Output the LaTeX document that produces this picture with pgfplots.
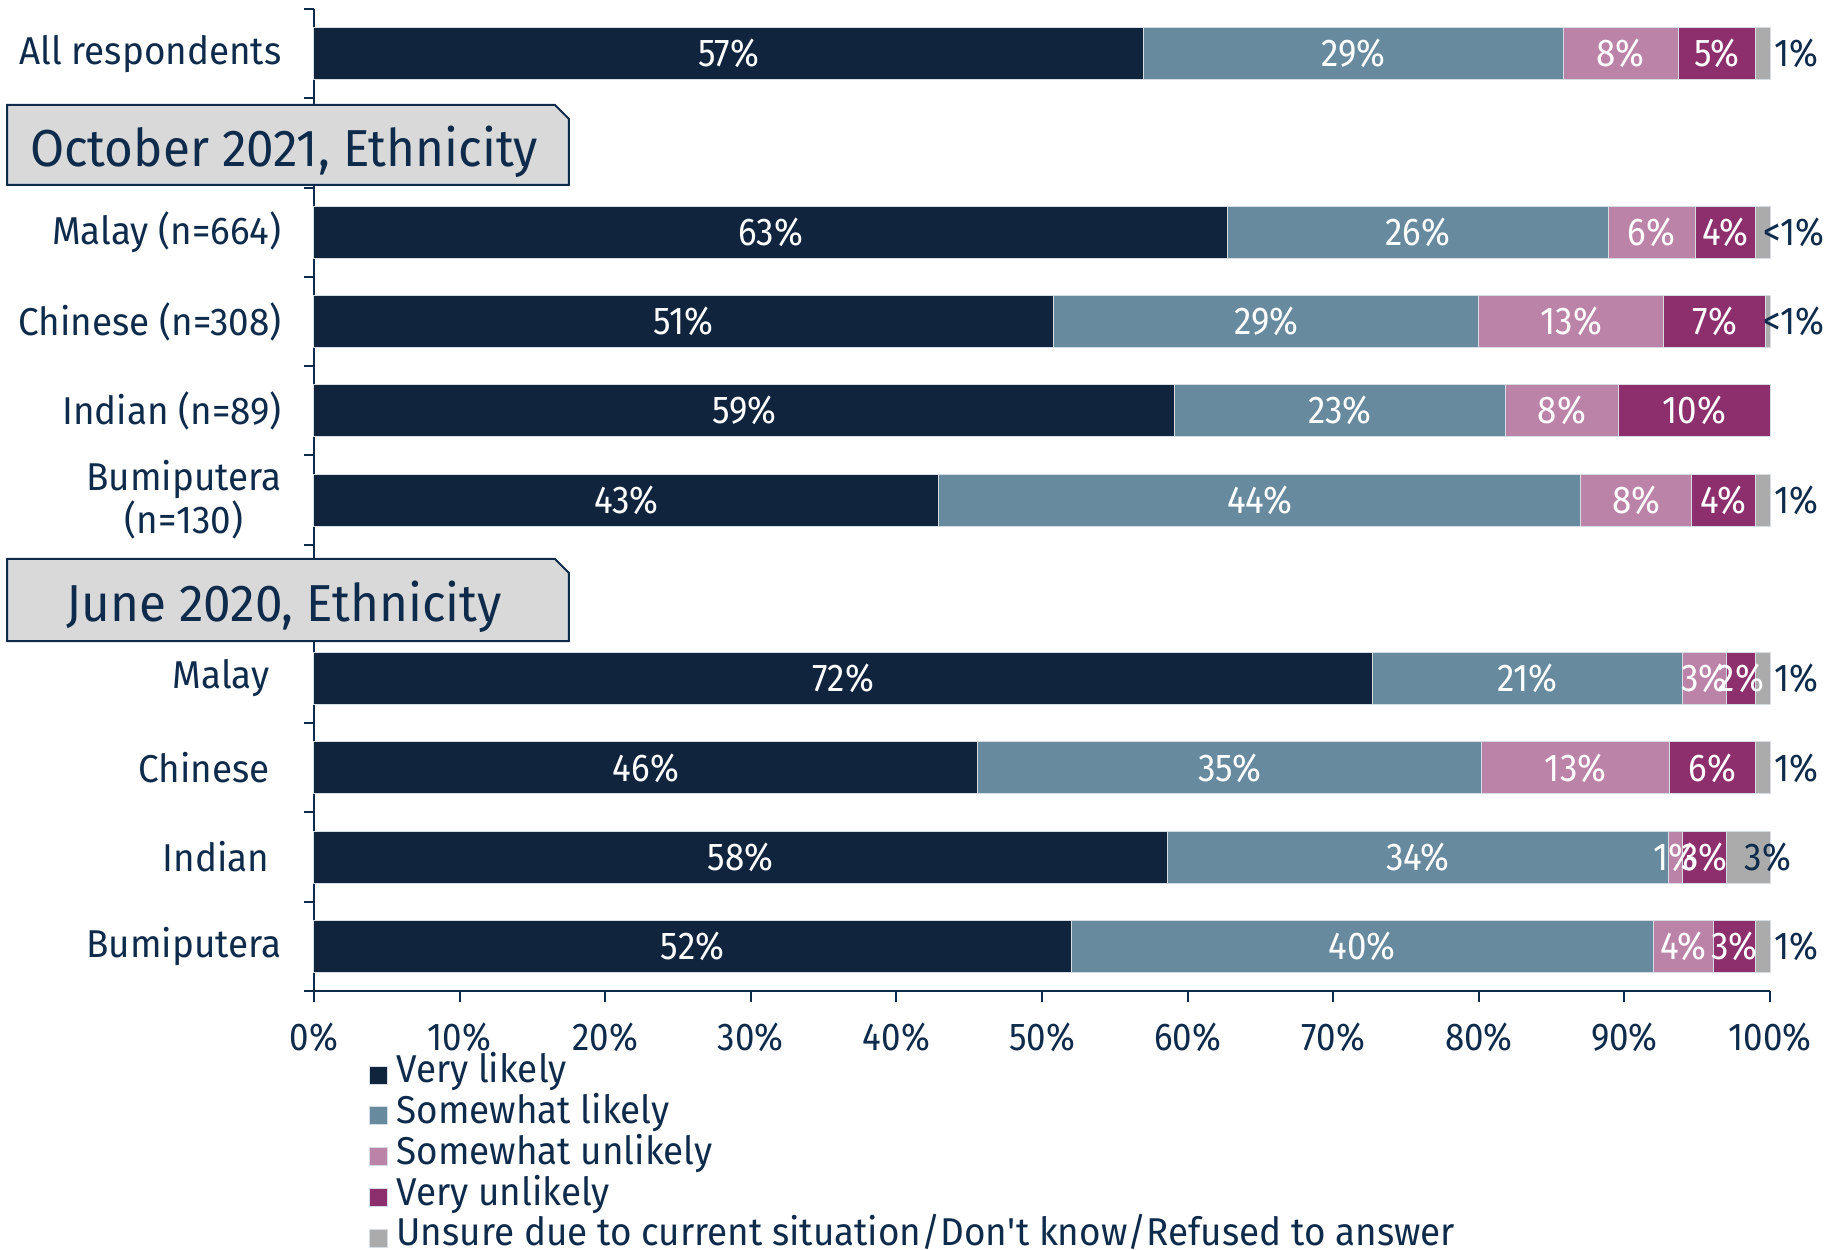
\documentclass[border=0pt]{standalone}
\usepackage{fontspec}
\setmainfont{Fira Sans}[FakeStretch=0.95]
\newfontfamily\numfont{Fira Sans}[FakeStretch=0.9]
\usepackage{pgfplots}
\usepackage{pgfplotstable}
\pgfplotsset{compat=1.18}
\definecolor{cVL}{HTML}{10243D}
\definecolor{cSL}{HTML}{678A9E}
\definecolor{cSU}{HTML}{BC83A8}
\definecolor{cVU}{HTML}{8C2F6C}
\definecolor{cUN}{HTML}{ABABAB}
\definecolor{txt}{HTML}{0E2B4C}
\definecolor{brd}{HTML}{D6DCE2}
\definecolor{hdrfill}{HTML}{D9D9D9}
\newcommand\lab{\fontsize{19.4}{21.5}\selectfont}
\newcommand\nlab{\numfont\fontsize{19.4}{21.5}\selectfont}
\newcommand\hdr{\fontsize{26}{30}\selectfont}

\pgfplotstableread{
y v lbl
10 57.0 57\%
8 62.75 63\%
7 50.8 51\%
6 59.1 59\%
5 42.9 43\%
3 72.7 72\%
2 45.6 46\%
1 58.6 58\%
0 52.0 52\%
}\tVL
\pgfplotstableread{
y v lbl
10 28.8 29\%
8 26.15 26\%
7 29.2 29\%
6 22.7 23\%
5 44.1 44\%
3 21.3 21\%
2 34.6 35\%
1 34.4 34\%
0 40.0 40\%
}\tSL
\pgfplotstableread{
y v lbl
10 7.9 8\%
8 5.95 6\%
7 12.7 13\%
6 7.8 8\%
5 7.6 8\%
3 3.0 3\%
2 12.9 13\%
1 1.0 1\%
0 4.1 4\%
}\tSU
\pgfplotstableread{
y v lbl
10 5.3 5\%
8 4.15 4\%
7 7.0 7\%
6 10.4 10\%
5 4.4 4\%
3 2.0 2\%
2 5.9 6\%
1 3.0 3\%
0 2.9 3\%
}\tVU
\pgfplotstableread{
y v lbl dx
10 1.0 1\% 5.7
8 1.0 <1\% 0
7 0.3 <1\% -2.4
6 0.0 {} 0
5 1.0 1\% 5.7
3 1.0 1\% 5.7
2 1.0 1\% 5.7
1 3.0 3\% -2
0 1.0 1\% 5.7
}\tUN

\pgfplotsset{
  inlab/.style={
    nodes near coords, point meta=explicit symbolic,
    mark layer=axis foreground,
    every node near coord/.append style={anchor=center,
      text=white, font=\nlab, inner sep=0pt}},
}

\begin{document}
\begin{tikzpicture}
\begin{axis}[name=ax, set layers=standard,
  scale only axis, width=728pt, height=491pt,
  xbar stacked, bar width=26pt,
  xmin=0, xmax=100, ymin=-0.5, ymax=10.5,
  enlargelimits=false, clip=false,
  axis x line=bottom, axis y line=left,
  axis line style={-, draw=txt, line width=1pt},
  xtick={0,10,...,100},
  xticklabels={0\%,10\%,20\%,30\%,40\%,50\%,60\%,70\%,80\%,90\%,100\%},
  ytick={0,1,2,3,5,6,7,8,10},
  yticklabels={Bumiputera,Indian\hspace*{6pt},Chinese\hspace*{6pt},Malay\hspace*{6pt},{Bumiputera\\(n=130)},Indian (n=89),Chinese (n=308),Malay (n=664),All respondents},
  minor ytick={-0.5,0.5,...,10.5},
  tick align=outside, major tick length=5.5pt, minor tick length=5pt,
  major y tick style={draw=none},
  minor y tick style={draw=txt, line width=1pt},
  x tick style={draw=txt, line width=1pt},
  tick label style={font=\lab, text=txt},
  yticklabel style={align=center, xshift=-7.25pt},
  xticklabel style={yshift=-7pt, font=\nlab},
  legend style={at={(axis description cs:0,0)}, anchor=north west,
    xshift=27.5pt, yshift=-31.6pt, draw=none, fill=none, inner sep=0pt,
    font=\lab, row sep=0pt, cells={anchor=west},
    nodes={inner sep=0pt, text=txt, text height=14pt, text depth=6.4pt},
    /tikz/every odd column/.append style={column sep=4pt}},
  legend cell align=left,
  legend image code/.code={\fill[#1] (0pt,-4.5pt) rectangle (9pt,4.5pt);},
]
\addplot[fill=cVL, draw=brd, line width=0.5pt, inlab] table[x=v, y=y, meta=lbl] {\tVL};
\addplot[fill=cSL, draw=brd, line width=0.5pt, inlab] table[x=v, y=y, meta=lbl] {\tSL};
\addplot[fill=cSU, draw=brd, line width=0.5pt, inlab] table[x=v, y=y, meta=lbl] {\tSU};
\addplot[fill=cVU, draw=brd, line width=0.5pt, inlab] table[x=v, y=y, meta=lbl] {\tVU};
\addplot[fill=cUN, draw=brd, line width=0.5pt,
  nodes near coords, point meta=explicit symbolic,
  mark layer=axis foreground,
  visualization depends on={\thisrow{dx} \as \dx},
  every node near coord/.append style={anchor=west, xshift={\dx pt},
    text=txt, font=\nlab, inner sep=0pt}] table[x=v, y=y, meta=lbl] {\tUN};
\legend{Very likely, Somewhat likely, Somewhat unlikely, Very unlikely, Unsure due to current situation/Don\textquotesingle t know/Refused to answer}
\coordinate (h1sw) at (axis cs:-21.08,8.53);
\coordinate (h1ne) at (axis cs:17.51,9.425);
\coordinate (h1t) at (axis cs:-2.06,8.736);
\coordinate (h2sw) at (axis cs:-21.08,3.42);
\coordinate (h2ne) at (axis cs:17.51,4.34);
\coordinate (h2t) at (axis cs:-2.06,3.636);
\end{axis}
\draw[fill=hdrfill, draw=txt, line width=1pt] (h1sw) |- ([xshift=-7pt]h1ne) -- ([yshift=-7pt]h1ne) |- (h1sw) -- cycle;
\node[anchor=base, font=\hdr, text=txt, inner sep=0pt] at (h1t) {October 2021, Ethnicity};
\draw[fill=hdrfill, draw=txt, line width=1pt] (h2sw) |- ([xshift=-7pt]h2ne) -- ([yshift=-7pt]h2ne) |- (h2sw) -- cycle;
\node[anchor=base, font=\hdr, text=txt, inner sep=0pt] at (h2t) {June 2020, Ethnicity};
\pgfresetboundingbox
\path[use as bounding box] ([shift={(-157pt,-129pt)}]ax.south west) rectangle ([shift={(761.5pt,495.5pt)}]ax.south west);
\end{tikzpicture}
\end{document}
